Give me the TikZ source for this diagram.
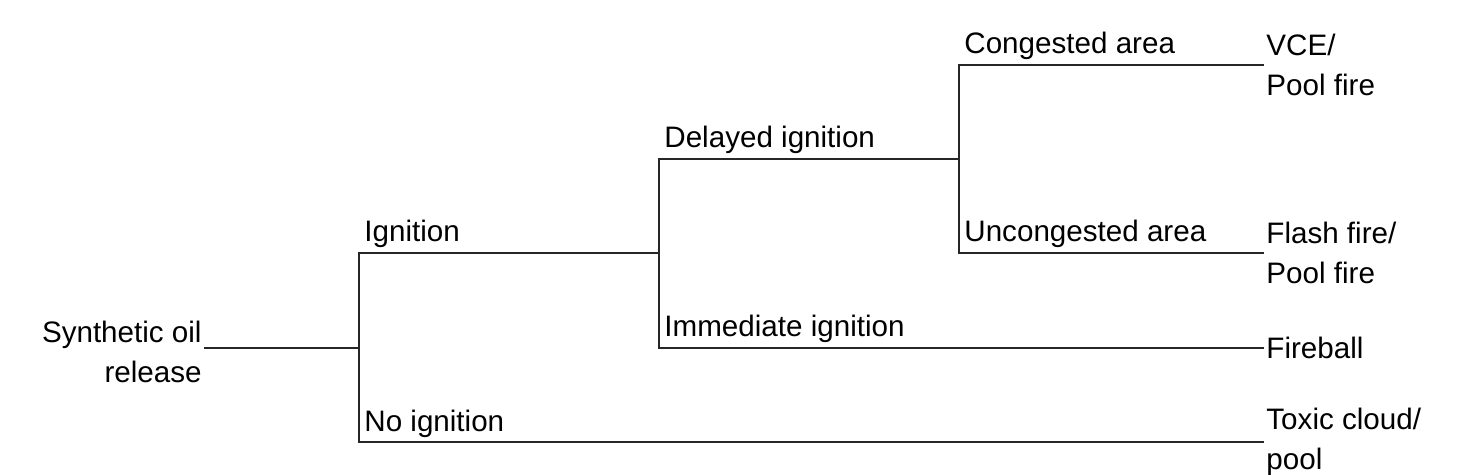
\documentclass[tikz,border=0pt]{standalone}
\usepackage{fontspec}
\setmainfont{Liberation Sans}
\usepackage{tikz}

\begin{document}
\begin{tikzpicture}[x=0.5pt,y=-0.5pt,
    outcome/.style={anchor=west,align=left,inner xsep=1.5pt,inner ysep=0pt},
    branch/.style={anchor=base west,inner sep=0pt}]
        \useasboundingbox (0,0) rectangle (1466,475);
        \begin{scope}[every node/.style={font=\fontsize{14.8}{20}\selectfont,text=black}]
          % tree joints
          \coordinate (j1) at (359,348);
          \coordinate (j1a) at (359,253);
          \coordinate (j1b) at (359,442);
          \coordinate (j2) at (659,253);
          \coordinate (j2a) at (659,159);
          \coordinate (j2b) at (659,348);
          \coordinate (j3) at (959,159);
          \coordinate (j3a) at (959,65);
          \coordinate (j3b) at (959,253);
          % start event
          \node[anchor=east,align=right,inner xsep=1.5pt] (rel) at (205,352) {Synthetic oil\\release};
          % outcomes
          \node[outcome] (vce) at (1263,65) {VCE/\\Pool fire};
          \node[outcome] (flash) at (1263,253) {Flash fire/\\Pool fire};
          \node[outcome] (fireb) at (1263,348) {Fireball};
          \node[outcome] (toxic) at (1263,442) {Toxic cloud/\\pool};
          % branch labels
          \node[branch] (ign) at ([shift={(5,-11)}]j1a) {Ignition};
          \node[branch] (noign) at ([shift={(5,-11)}]j1b) {No ignition};
          \node[branch] (delay) at ([shift={(5,-11)}]j2a) {Delayed ignition};
          \node[branch] (immed) at ([shift={(5,-11)}]j2b) {Immediate ignition};
          \node[branch] (cong) at ([shift={(5,-11)}]j3a) {Congested area};
          \node[branch] (uncong) at ([shift={(5,-11)}]j3b) {Uncongested area};
        \end{scope}
        \begin{scope}[every edge/.style={draw=black!85,line width=1.1pt,line cap=rect}]
          \path (rel.east |- j1) edge (j1);
          \path (j1a) edge (j1b);
          \path (j1a) edge (j2);
          \path (j1b) edge (toxic.west);
          \path (j2a) edge (j2b);
          \path (j2a) edge (j3);
          \path (j2b) edge (fireb.west);
          \path (j3a) edge (j3b);
          \path (j3a) edge (vce.west);
          \path (j3b) edge (flash.west);
        \end{scope}
      \end{tikzpicture}
\end{document}
